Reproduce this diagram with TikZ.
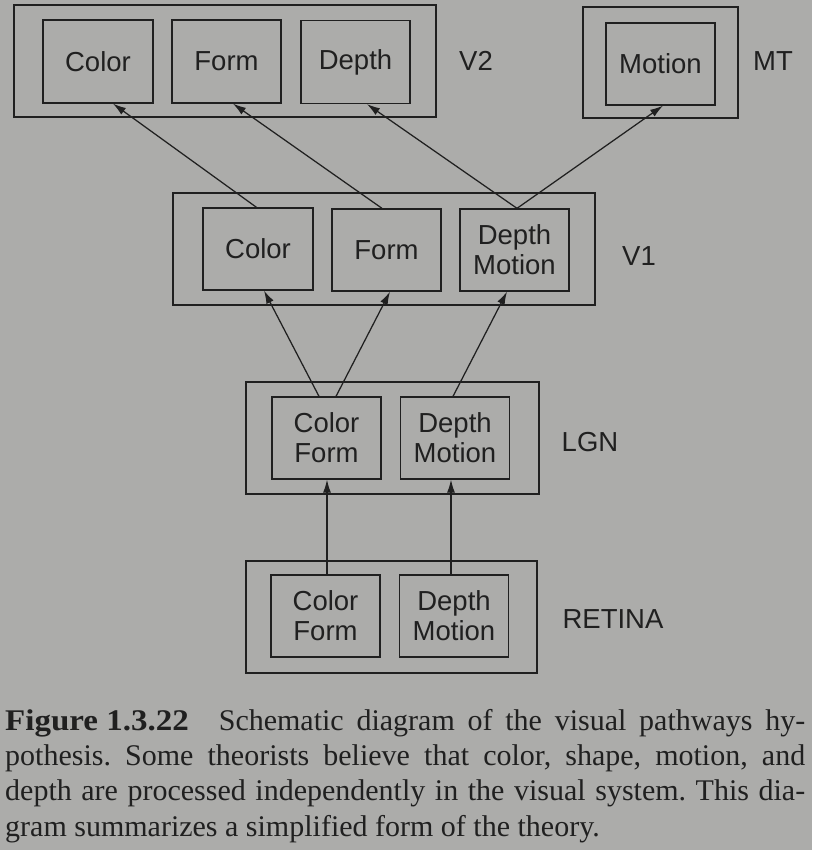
\documentclass[tikz,border=0pt]{standalone}
\usepackage{fontspec}
\setmainfont{Liberation Serif}
\newfontfamily\labfont{Liberation Sans}
\usetikzlibrary{arrows.meta,calc}
\definecolor{bg}{RGB}{172,172,170}
\definecolor{ink}{RGB}{32,32,32}
\begin{document}
\frenchspacing
\begin{tikzpicture}[x=1pt,y=-1pt,
  box/.style={draw=ink, line width=1.3pt, minimum width=109pt, minimum height=82pt,
    inner sep=0pt, align=center, text=ink, font=\labfont\fontsize{27.5}{30}\selectfont},
  outerbox/.style={draw=ink, line width=1.3pt, inner sep=0pt, minimum height=112pt},
  arealabel/.style={text=ink, font=\labfont\fontsize{27.5}{30}\selectfont},
  arr/.style={draw=ink, line width=1.25pt, -{Latex[length=13pt,width=8pt]}},
  capline/.style={anchor=base west, inner sep=0pt, text=ink, font=\fontsize{30}{35}\selectfont}]
\fill[bg] (0,0) rectangle (812,850);
\useasboundingbox (0,0) rectangle (812,850);
% V2
\node[outerbox, minimum width=422pt] (v2) at (225,61) {};
\node[box, minimum width=110pt, minimum height=83pt] (v2c) at (98,61.5) {Color};
\node[box, minimum height=83pt] (v2f) at (226.5,61.5) {Form};
\node[box, minimum height=83pt] (v2d) at (355.5,62) {Depth};
\node[arealabel] (v2l) at (476,61) {V2};
% MT
\node[outerbox, minimum width=155pt, minimum height=111pt] (mt) at (660.5,62.5) {};
\node[box] (mtm) at (660.5,64) {Motion};
\node[arealabel] (mtl) at (773,61) {MT};
% V1
\node[outerbox, minimum width=422pt] (v1) at (384,249) {};
\node[box, minimum width=110pt] (v1c) at (258,249) {Color};
\node[box] (v1f) at (386.5,250) {Form};
\node[box] (v1dm) at (514.5,250) {Depth\\Motion};
\node[arealabel] (v1l) at (639,256) {V1};
% LGN
\node[outerbox, minimum width=293pt] (lgn) at (392.5,438) {};
\node[box] (lgncf) at (326.5,438) {Color\\Form};
\node[box] (lgndm) at (455,438) {Depth\\Motion};
\node[arealabel] (lgnl) at (590,442) {LGN};
% RETINA
\node[outerbox, minimum width=291pt] (ret) at (391.5,617) {};
\node[box] (retcf) at (325.5,616) {Color\\Form};
\node[box] (retdm) at (454,616) {Depth\\Motion};
\node[arealabel] (retl) at (613,619) {RETINA};
% V1 -> V2 / MT
\draw[arr] ([xshift=-1.5pt]v1c.north) -- ([xshift=15pt]v2c.south);
\draw[arr] ([xshift=-4.5pt]v1f.north) -- ([xshift=6.5pt]v2f.south);
\draw[arr] ([xshift=2.5pt]v1dm.north) -- ([xshift=11.5pt]v2d.south);
\draw[arr] ([xshift=2.5pt]v1dm.north) -- ([xshift=2.5pt]mtm.south);
% LGN -> V1
\draw[arr] ([xshift=-7.5pt]lgncf.north) -- ([xshift=6pt]v1c.south);
\draw[arr] ([xshift=9.5pt]lgncf.north) -- ([xshift=3.5pt]v1f.south);
\draw[arr] ([xshift=-2pt]lgndm.north) -- ([xshift=-7.5pt]v1dm.south);
% RETINA -> LGN
\draw[arr] ([xshift=1.5pt]retcf.north) -- ([xshift=0.5pt]lgncf.south);
\draw[arr] ([xshift=-3pt]retdm.north) -- ([xshift=-4pt]lgndm.south);
% caption
\node[capline] (cap1) at (5,730) {\makebox[800pt][s]{\scalebox{1.1}[1]{\textbf{Figure 1.3.22}}\hspace{1em}Schematic diagram of the visual pathways hy-}};
\node[capline] (cap2) at (5,765) {\makebox[800pt][s]{pothesis. Some theorists believe that color, shape, motion, and}};
\node[capline] (cap3) at (5,800) {\makebox[800pt][s]{depth are processed independently in the visual system. This dia-}};
\node[capline] (cap4) at (5,836) {gram summarizes a simplified form of the theory.};
\end{tikzpicture}
\end{document}
